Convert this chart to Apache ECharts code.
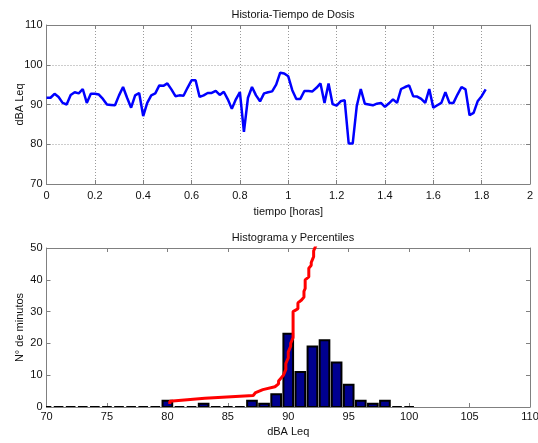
<!DOCTYPE html>
<html>
<head>
<meta charset="utf-8">
<script src="https://cdn.jsdelivr.net/npm/echarts@6/dist/echarts.min.js"></script>
<style>
  html, body { margin: 0; padding: 0; background: #fff; }
  #chart { width: 538px; height: 443px; }
</style>
</head>
<body>
<div id="chart"></div>
<script>
// Equivalent continuous level (dBA Leq), one value per minute
const doseLeq = [
  91.7, 91.7, 92.7, 91.9, 90.4, 90.0, 92.4, 93.1, 92.8, 93.9,
  90.4, 92.7, 92.7, 92.5, 91.4, 90.0, 89.9, 89.8, 92.3, 94.4,
  91.7, 89.2, 92.3, 92.9, 87.1, 90.4, 92.3, 92.8, 94.8, 94.7,
  95.3, 93.8, 92.1, 92.3, 92.2, 94.2, 96.1, 96.1, 91.9, 92.3,
  92.9, 92.9, 93.4, 92.4, 93.2, 91.3, 88.9, 91.3, 93.1, 83.1,
  91.7, 94.4, 92.3, 90.8, 92.8, 93.1, 93.3, 95.0, 98.0, 97.8,
  97.1, 93.6, 91.4, 91.4, 93.4, 93.4, 93.3, 94.2, 95.3, 90.4,
  95.3, 90.1, 89.7, 90.8, 91.1, 80.2, 80.2, 89.6, 93.9, 90.2,
  90.0, 89.8, 90.2, 90.4, 89.4, 90.3, 91.3, 90.4, 93.9, 94.4,
  94.8, 92.1, 92.0, 91.4, 90.4, 93.9, 89.2, 89.8, 90.4, 93.1,
  90.4, 90.4, 92.5, 94.4, 93.8, 87.3, 87.9, 90.8, 92.1, 93.8
];
const minutesPerHour = 60;

// Histogram bins (dBA, 1 dB wide) and minute counts
const binCenters = [
  70, 71, 72, 73, 74, 75, 76, 77, 78, 79,
  80, 81, 82, 83, 84, 85, 86, 87, 88, 89,
  90, 91, 92, 93, 94, 95, 96, 97, 98, 99, 100
];
const binCounts = [
  0, 0, 0, 0, 0, 0, 0, 0, 0, 0,
  2, 0, 0, 1, 0, 0, 0, 2, 1, 4,
  23, 11, 19, 21, 14, 7, 2, 1, 2, 0, 0
];
const barWidthDb = 0.8;

// Axis ticks
const timeTicks = { min: 0, max: 2, interval: 0.2 };
const levelTicks = { min: 70, max: 110, interval: 10 };
const histXTicks = { min: 70, max: 110, interval: 5 };
const histYTicks = { min: 0, max: 50, interval: 10 };

const timeSeries = doseLeq.map((v, i) => [i / minutesPerHour, v]);
// Cumulative percentile curve from the sorted levels
const sortedLeq = doseLeq.slice().sort((a, b) => a - b);
const percentileCurve = sortedLeq.map((v, k) => [v, (k + 1) / sortedLeq.length * 100]);
const histData = binCenters.map((c, i) => [c, binCounts[i]]);

const FONT = '"Liberation Sans", Arial, sans-serif';
const TXT = '#111';
const FRAME = '#808080';
const fs = 11;

function baseAxis(extra) {
  return Object.assign({
    type: 'value',
    axisLine: { show: true, onZero: false, lineStyle: { color: FRAME, width: 1 } },
    axisTick: { show: true, inside: true, length: 4, lineStyle: { color: FRAME } },
    axisLabel: { color: TXT, fontFamily: FONT, fontSize: fs },
    splitLine: { show: false },
    nameTextStyle: { color: TXT, fontFamily: FONT, fontSize: fs },
    nameLocation: 'middle'
  }, extra);
}
function mirrorAxis(extra) {
  return baseAxis(Object.assign({ axisLabel: { show: false } }, extra));
}
const dotted = { show: true, lineStyle: { color: '#9a9a9a', type: [1, 2], width: 1 } };

const chart = echarts.init(document.getElementById('chart'), null, { renderer: 'canvas' });
chart.setOption({
  animation: false,
  backgroundColor: '#fff',
  title: [
    { text: 'Historia-Tiempo de Dosis', left: 288, top: 4, textAlign: 'center',
      textStyle: { fontFamily: FONT, fontSize: fs, fontWeight: 'normal', color: TXT } },
    { text: 'Histograma y Percentiles', left: 288, top: 227, textAlign: 'center',
      textStyle: { fontFamily: FONT, fontSize: fs, fontWeight: 'normal', color: TXT } }
  ],
  grid: [
    { left: 46.5, right: 8, top: 25, height: 159, containLabel: false, outerBoundsMode: 'none' },
    { left: 46.5, right: 8, top: 248, height: 159, containLabel: false, outerBoundsMode: 'none' }
  ],
  xAxis: [
    baseAxis(Object.assign({ gridIndex: 0, position: 'bottom', name: 'tiempo [horas]', nameGap: 22,
      splitLine: dotted,
      axisLabel: { color: TXT, fontFamily: FONT, fontSize: fs, margin: 6,
        formatter: v => String(+v.toFixed(1)) } }, timeTicks)),
    mirrorAxis(Object.assign({ gridIndex: 0, position: 'top' }, timeTicks)),
    baseAxis(Object.assign({ gridIndex: 1, position: 'bottom', name: 'dBA Leq', nameGap: 19,
      axisLabel: { color: TXT, fontFamily: FONT, fontSize: fs, margin: 4 } }, histXTicks)),
    mirrorAxis(Object.assign({ gridIndex: 1, position: 'top' }, histXTicks))
  ],
  yAxis: [
    baseAxis(Object.assign({ gridIndex: 0, position: 'left', name: 'dBA Leq', nameGap: 21,
      nameMoveOverlap: false, splitLine: dotted,
      axisLabel: { color: TXT, fontFamily: FONT, fontSize: fs, margin: 4 } }, levelTicks)),
    mirrorAxis(Object.assign({ gridIndex: 0, position: 'right' }, levelTicks)),
    baseAxis(Object.assign({ gridIndex: 1, position: 'left', name: 'N° de minutos', nameGap: 21,
      nameMoveOverlap: false,
      axisLabel: { color: TXT, fontFamily: FONT, fontSize: fs, margin: 4 } }, histYTicks)),
    mirrorAxis(Object.assign({ gridIndex: 1, position: 'right' }, histYTicks))
  ],
  series: [
    {
      type: 'line', xAxisIndex: 0, yAxisIndex: 0, data: timeSeries,
      showSymbol: false, symbol: 'none',
      lineStyle: { color: '#0000ff', width: 2.5 }, z: 5
    },
    {
      type: 'custom', xAxisIndex: 2, yAxisIndex: 2, data: histData, z: 3,
      clip: true,
      renderItem: function (params, api) {
        const c = api.value(0), n = api.value(1);
        const p0 = api.coord([c - barWidthDb / 2, n]);
        const p1 = api.coord([c + barWidthDb / 2, 0]);
        return {
          type: 'rect',
          shape: { x: p0[0], y: p0[1], width: p1[0] - p0[0], height: p1[1] - p0[1] },
          style: { fill: '#000090', stroke: '#000', lineWidth: 2 }
        };
      }
    },
    {
      type: 'line', xAxisIndex: 2, yAxisIndex: 2, data: percentileCurve,
      showSymbol: false, symbol: 'none', clip: true,
      lineStyle: { color: '#ff0000', width: 3 }, z: 6
    }
  ]
});
</script>
</body>
</html>
